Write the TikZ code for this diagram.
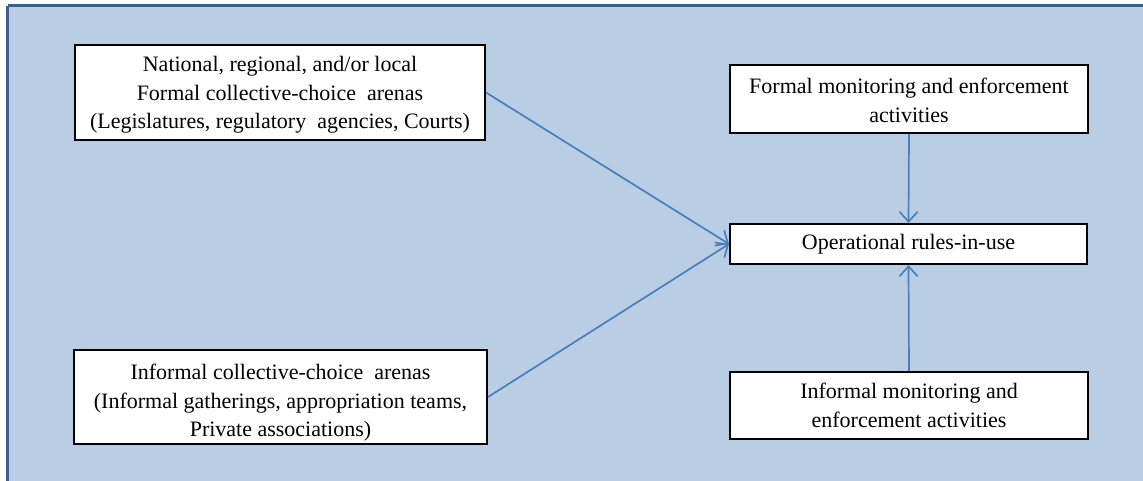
\documentclass[tikz,border=0pt]{standalone}
\usepackage{fontspec}
\setmainfont{Liberation Serif}
\usetikzlibrary{arrows.meta}
\definecolor{panelfill}{HTML}{B9CDE5}
\definecolor{panelline}{HTML}{3B5F8C}
\definecolor{linkblue}{HTML}{4A7EBB}
% invisible strut that lowers the block of text a little inside its box
\newcommand{\lowerby}[1]{\rule{0pt}{#1}}
\tikzset{
  box/.style={draw=black, fill=white, line width=2pt, inner sep=0pt,
    align=center, font=\fontsize{22}{28.5}\selectfont},
  link/.style={draw=linkblue, line width=1.7pt,
    -{Straight Barb[length=10pt,width=18pt,line width=1.7pt]}}
}
\begin{document}
\begin{tikzpicture}[x=1pt,y=-1pt]
  \useasboundingbox (0,0) rectangle (1143,480);
  % blue panel behind everything, running off the right and bottom edges
  \begin{scope}
    \clip (0,0) rectangle (1143,480);
    \fill[panelfill] (7.5,5.5) rectangle (1160,500);
    \draw[panelline, line width=3.5pt] (7.5,5.5) -- (1160,5.5);
    \draw[panelline, line width=3.5pt] (7.5,5.5) -- (7.5,500);
  \end{scope}

  \node[box, minimum width=410, minimum height=95] (formal) at (280,92.5)
    {\lowerby{20pt}National, regional, and/or local\\Formal collective-choice\ \ arenas\\(Legislatures, regulatory\ \ agencies, Courts)};
  \node[box, minimum width=413, minimum height=94] (informal) at (280.5,397)
    {\lowerby{27pt}Informal collective-choice\ \ arenas\\(Informal gatherings, appropriation teams,\\Private associations)};
  \node[box, minimum width=358, minimum height=68] (fmon) at (909,99)
    {\lowerby{18pt}Formal monitoring and enforcement\\activities};
  \node[box, minimum width=357, minimum height=40] (rules) at (908.5,244)
    {Operational rules-in-use};
  \node[box, minimum width=358, minimum height=67] (imon) at (909,405.5)
    {Informal monitoring and\\enforcement activities};

  \draw[link] (formal.east) -- (rules.west);
  \draw[link] (informal.east) -- (rules.west);
  \draw[link] (fmon.south) -- (rules.north);
  \draw[link] (imon.north) -- (rules.south);
\end{tikzpicture}
\end{document}
